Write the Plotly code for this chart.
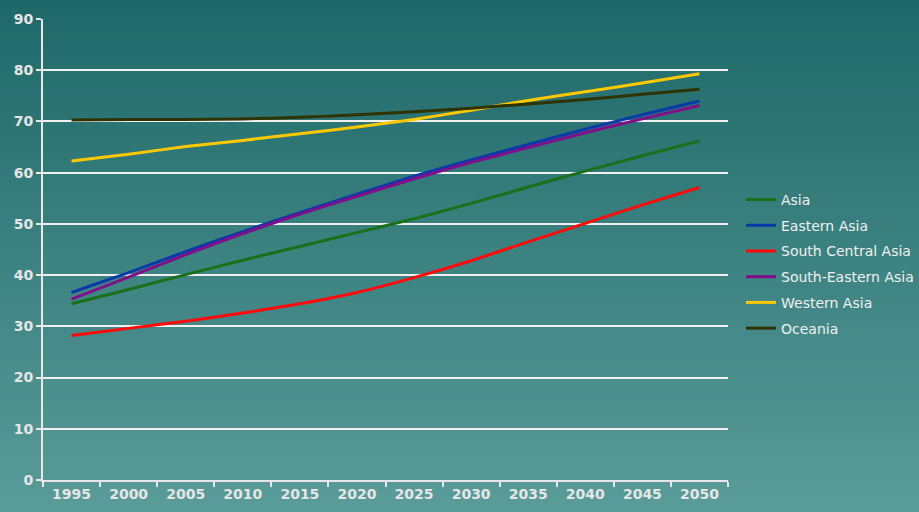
import plotly.graph_objects as go

years = ["1995", "2000", "2005", "2010", "2015", "2020", "2025", "2030", "2035", "2040", "2045", "2050"]

asia = [34.4, 37.2, 40.1, 42.9, 45.6, 48.3, 51.0, 54.0, 57.2, 60.3, 63.3, 66.2]
eastern_asia = [36.6, 40.5, 44.6, 48.5, 52.2, 55.8, 59.3, 62.5, 65.5, 68.5, 71.3, 74.0]
south_central_asia = [28.2, 29.6, 31.0, 32.6, 34.4, 36.6, 39.5, 42.8, 46.5, 50.1, 53.7, 57.1]
south_eastern_asia = [35.3, 39.6, 44.0, 48.1, 51.9, 55.4, 58.8, 62.0, 64.9, 67.8, 70.5, 73.1]
western_asia = [62.3, 63.6, 65.1, 66.3, 67.6, 68.9, 70.4, 72.2, 74.1, 75.8, 77.5, 79.3]
oceania = [70.3, 70.4, 70.4, 70.5, 70.8, 71.3, 71.9, 72.6, 73.4, 74.3, 75.3, 76.3]

series = [
    ("Asia", asia, "#1a701a"),
    ("Eastern Asia", eastern_asia, "#0a3aa8"),
    ("South Central Asia", south_central_asia, "#ff0a0a"),
    ("South-Eastern Asia", south_eastern_asia, "#7f0f8a"),
    ("Western Asia", western_asia, "#ffc800"),
    ("Oceania", oceania, "#2e3300"),
]

fig = go.Figure()
for i, (name, vals, col) in enumerate(series):
    fig.add_trace(go.Scatter(
        x=years, y=vals, name=name, mode="lines",
        line=dict(color=col, width=3, shape="spline", smoothing=0.6),
        legendgroup=f"g{i}",
    ))

W, H = 919, 512
ml, mr, mt, mb = 43, 191, 19, 32
pw, ph = W - ml - mr, H - mt - mb

# background gradient via stacked rectangles
top = (30, 104, 105)
bot = (90, 156, 153)
n = 64
shapes = []
for k in range(n):
    y0px = H * k / n
    y1px = H * (k + 1) / n
    t = (k + 0.5) / n
    c = tuple(int(round(top[j] + (bot[j] - top[j]) * t)) for j in range(3))
    py0 = (H - mb - y1px) / ph
    py1 = (H - mb - y0px) / ph
    shapes.append(dict(
        type="rect", xref="paper", yref="paper",
        x0=-ml / pw - 0.01, x1=(W - ml) / pw + 0.01,
        y0=py0 - 0.001, y1=py1 + 0.001,
        fillcolor=f"rgb{c}", line=dict(width=0), layer="below",
    ))

tickfont = dict(family="DejaVu Sans", size=14, color="#e6e6e6", weight="bold")

fig.update_layout(
    width=W, height=H,
    margin=dict(l=ml, r=mr, t=mt, b=mb, autoexpand=False),
    paper_bgcolor="rgb(30,104,105)",
    plot_bgcolor="rgba(0,0,0,0)",
    shapes=shapes,
    showlegend=True,
    legend=dict(
        x=(741 - ml) / pw, y=(H - mb - 184) / ph, xanchor="left", yanchor="top",
        font=dict(family="DejaVu Sans", size=14, color="#f0f0f0"),
        bgcolor="rgba(0,0,0,0)", tracegroupgap=4.5, itemwidth=30,
    ),
    xaxis=dict(
        type="category", tickson="boundaries", range=[-0.5, 11.5],
        ticks="outside", ticklen=5, tickcolor="#e8e8e8", tickwidth=2, showgrid=False,
        showline=True, linecolor="#e8e8e8", linewidth=2,
        tickfont=tickfont, fixedrange=True, automargin=False,
    ),
    yaxis=dict(
        range=[0, 90], dtick=10, ticks="outside", ticklen=5,
        tickcolor="#e8e8e8", tickwidth=2,
        showgrid=True, gridcolor="#f0f0f0", gridwidth=2,
        showline=True, linecolor="#e8e8e8", linewidth=2, zeroline=False,
        tickfont=tickfont, fixedrange=True, automargin=False,
    ),
)

fig.write_html(
    "out.html",
    config={"displayModeBar": False},
    post_script="document.body.style.margin='0';document.body.style.padding='0';",
)
